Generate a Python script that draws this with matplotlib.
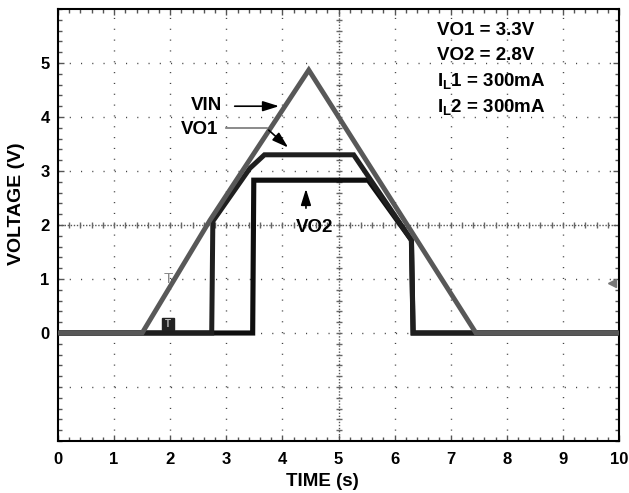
import numpy as np
import matplotlib
matplotlib.use("Agg")
import matplotlib.pyplot as plt

plt.rcParams['font.family'] = ['Liberation Sans', 'DejaVu Sans']
plt.rcParams['font.weight'] = 'bold'
plt.rcParams['mathtext.fontset'] = 'custom'
plt.rcParams['mathtext.rm'] = 'Liberation Sans:bold'
plt.rcParams['mathtext.default'] = 'rm'

# ---- data ----
vin_t = [0, 1.5, 2.71, 4.47, 7.45, 10]
vin_v = [0, 0, 2.09, 4.87, 0, 0]

vo1_t = [0, 2.74, 2.76, 3.42, 3.68, 5.27, 6.30, 6.33, 10]
vo1_v = [0, 0, 2.07, 3.05, 3.30, 3.30, 1.72, 0, 0]

vo2_t = [0, 3.47, 3.49, 5.53, 6.30, 6.33, 10]
vo2_v = [0, 0, 2.83, 2.83, 1.72, 0, 0]

x_ticks = [0, 1, 2, 3, 4, 5, 6, 7, 8, 9, 10]
y_ticks = [0, 1, 2, 3, 4, 5]
info_lines = ["VO1 = 3.3V", "VO2 = 2.8V", "I$_\\mathrm{L}$1 = 300mA", "I$_\\mathrm{L}$2 = 300mA"]

fig = plt.figure(figsize=(6.29, 4.93), dpi=100)
ax = fig.add_axes([58/629, 52/493, (619-58)/629, (441-9)/493])
ax.set_xlim(0, 10)
ax.set_ylim(-2, 6)

# scope-like grid: dotted major lines
for gx in range(1, 10):
    if gx == 5:
        continue
    ax.axvline(gx, color='#444444', lw=1.0, linestyle=(0, (0.8, 7.0)), zorder=1)
for gy in range(-1, 6):
    if gy == 2:
        continue
    ax.axhline(gy, color='#444444', lw=1.0, linestyle=(0, (0.8, 7.3)), zorder=1)
# centre lines
ax.axhline(2, color='#555555', lw=1.0, linestyle=(0, (1, 1.2)), zorder=1)
ax.axvline(5, color='#555555', lw=1.0, linestyle=(0, (1, 1.2)), zorder=1)
cx = np.arange(0.2, 10, 0.2)
cy = np.arange(-1.8, 6, 0.2)
ax.plot(cx, np.full_like(cx, 2.0), linestyle='none', marker='|', ms=5, mew=1.0, color='#666666', zorder=1)
ax.plot(np.full_like(cy, 5.0), cy, linestyle='none', marker='_', ms=5, mew=1.0, color='#666666', zorder=1)

# curves
ax.plot(vo2_t, vo2_v, color='#0e0e0e', lw=3.7, solid_joinstyle='miter', zorder=3)
ax.plot(vo1_t, vo1_v, color='#1f1f1f', lw=3.6, solid_joinstyle='miter', zorder=4)
ax.plot(vin_t, vin_v, color='#585858', lw=3.5, solid_joinstyle='miter', zorder=5)

# scope markers
ax.text(1.96, 1.0, 'T', color='#888888', fontsize=11, fontweight='normal',
        ha='center', va='center', zorder=6)
ax.plot([1.96], [0.17], marker='s', ms=8.5, color='#222222', zorder=6)
ax.text(1.96, 0.16, 'T', color='#bbbbbb', fontsize=7, ha='center', va='center', zorder=6)
ax.plot([9.87], [0.93], marker='<', ms=6, color='#777777', zorder=6)

arrow_style = '-|>,head_length=0.7,head_width=0.22'
# annotations
ax.text(2.64, 4.22, 'VIN', fontsize=13.5, ha='center', va='center', zorder=7)
ax.annotate('', xy=(3.99, 4.2), xytext=(3.1, 4.2),
            arrowprops=dict(arrowstyle=arrow_style, color='black', lw=1.2, mutation_scale=14), zorder=7)
ax.text(2.53, 3.76, 'VO1', fontsize=13.5, ha='center', va='center', zorder=7)
ax.plot([3.0, 3.72], [3.79, 3.79], color='#777777', lw=1.2, zorder=7)
ax.annotate('', xy=(4.14, 3.4), xytext=(3.72, 3.79),
            arrowprops=dict(arrowstyle=arrow_style, color='black', lw=1.2, mutation_scale=14), zorder=7)
ax.text(4.58, 1.95, 'VO2', fontsize=13.5, ha='center', va='center', zorder=7)
ax.annotate('', xy=(4.42, 2.72), xytext=(4.42, 2.26),
            arrowprops=dict(arrowstyle=arrow_style, color='black', lw=1.2, mutation_scale=14), zorder=7)

for i, line in enumerate(info_lines):
    ax.text(6.75, 5.6 - i * 0.47, line, fontsize=13.5, ha='left', va='center', zorder=7)

ax.set_xticks(x_ticks)
ax.set_yticks(y_ticks)
ax.set_xticklabels([str(v) for v in x_ticks], fontsize=12, fontweight='bold')
ax.set_yticklabels([str(v) for v in y_ticks], fontsize=12, fontweight='bold')
ax.set_xticks(np.arange(0, 10.01, 0.2), minor=True)
ax.set_yticks(np.arange(-2, 6.01, 0.2), minor=True)
ax.tick_params(which='both', direction='in', top=True, right=True, color='#555555')
ax.tick_params(which='major', length=4, width=1.0)
ax.tick_params(axis='x', which='major', pad=8)
ax.tick_params(axis='y', which='major', pad=6)
ax.tick_params(which='minor', length=3, width=1.0)
for s in ax.spines.values():
    s.set_linewidth(1.5)
    s.set_color('black')

ax.set_xlabel('TIME (s)', fontsize=13.5, fontweight='bold')
ax.set_ylabel('VOLTAGE (V)', fontsize=14, fontweight='bold')
ax.xaxis.set_label_coords(0.472, -0.075)
ax.yaxis.set_label_coords(-0.059, 0.55)

fig.savefig('out.png', dpi=100)
